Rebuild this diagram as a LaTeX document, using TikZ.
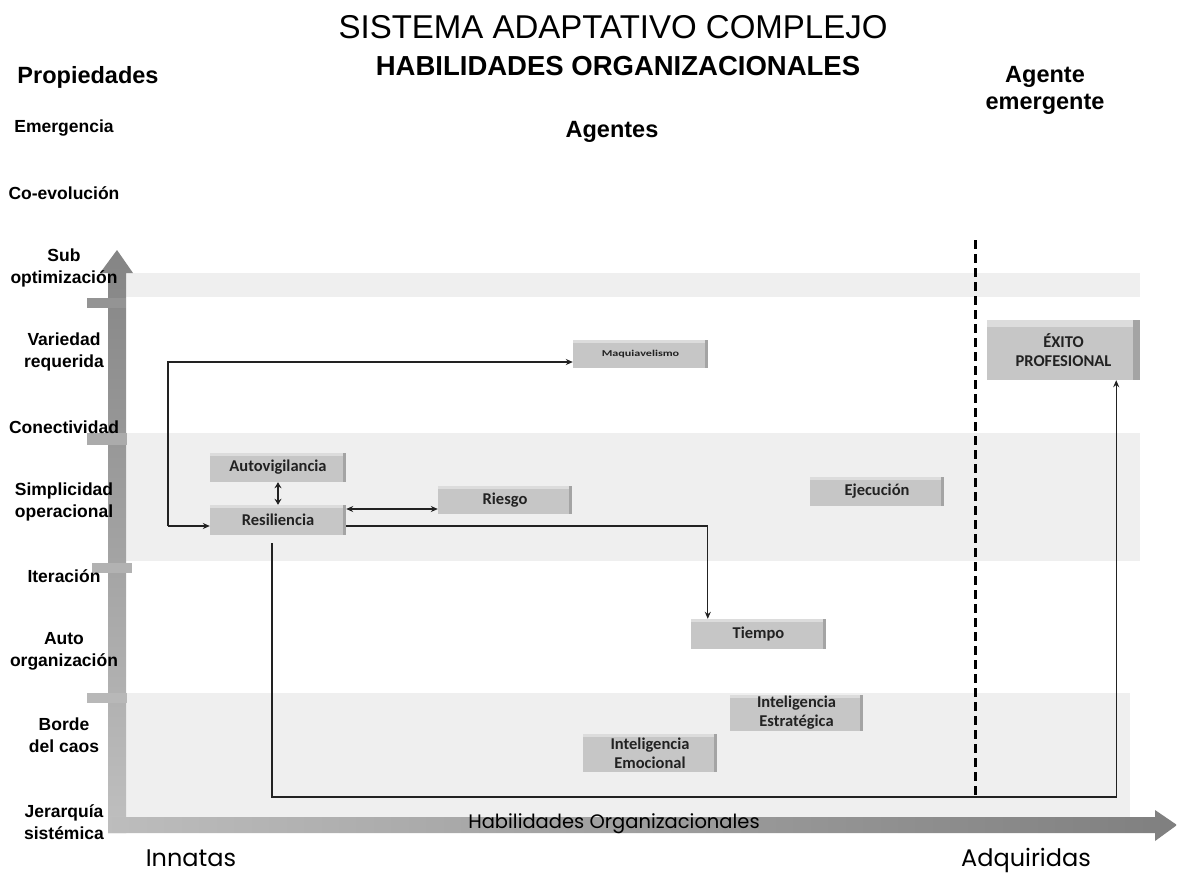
\documentclass[tikz,border=0pt]{standalone}
\usepackage{fontspec}
\setmainfont{Liberation Sans}
\newfontfamily\boxfont{Carlito}
\newfontfamily\roundfont{Poppins}
\usetikzlibrary{arrows.meta,calc}

\definecolor{bandgray}{HTML}{EFEFEF}
\definecolor{boxgray}{HTML}{C6C6C6}
\definecolor{boxtop}{HTML}{DCDCDC}
\definecolor{boxside}{HTML}{A4A4A4}
\definecolor{inkgray}{HTML}{222222}

\tikzset{
  proplabel/.style={align=center, font=\bfseries\fontsize{17.5}{22}\selectfont},
  heading/.style={align=center, font=\bfseries\fontsize{23.5}{27}\selectfont},
  agentbox/.style={
    fill=boxgray, inner sep=0pt, align=center, text=inkgray,
    font=\boxfont\bfseries\fontsize{16.5}{19}\selectfont,
    path picture={
      \fill[boxtop] (path picture bounding box.north west) rectangle
        ([yshift=-\boxdepth]path picture bounding box.north east);
      \fill[boxside] ([xshift=-\boxdepth]path picture bounding box.south east) rectangle
        (path picture bounding box.north east);
    }},
  conn/.style={draw=inkgray, line width=1.1pt,
    -{Stealth[length=7pt,width=6pt]}},
  dconn/.style={draw=inkgray, line width=1.1pt,
    {Stealth[length=7pt,width=6pt]}-{Stealth[length=7pt,width=6pt]}},
  caption/.style={font=\roundfont\fontsize{24}{28}\selectfont, text=black},
}
\newcommand{\boxdepth}{3pt}

\begin{document}
\begin{tikzpicture}[x=1pt,y=-1pt]
\useasboundingbox (0,0) rectangle (1177,873);
\fill[white] (0,0) rectangle (1177,873);

% shaded bands
\fill[bandgray] (126,273) rectangle (1140,297);
\fill[bandgray] (126,433) rectangle (1140,561);
\fill[bandgray] (126,693) rectangle (1130,817);

% vertical axis arrow
\shade[top color=black!48, bottom color=black!25]
  (108,833) -- (108,273) -- (100,273) -- (117,250) -- (133,273)
  -- (126,273) -- (126,833) -- cycle;
% horizontal axis arrow
\shade[left color=black!26, right color=black!50]
  (108,817) -- (1155,817) -- (1155,810) -- (1177,825) -- (1155,841)
  -- (1155,833) -- (108,833) -- cycle;

% tick bars on the vertical axis
\fill[black!42] (87,298) rectangle (126,308);
\fill[black!33] (87,433) rectangle (127,445);
\fill[black!30] (92,563) rectangle (132,573);
\fill[black!28] (87,693) rectangle (127,703);

% titles
\node[font=\fontsize{33}{36}\selectfont] (title) at (613,27) {SISTEMA ADAPTATIVO COMPLEJO};
\node[font=\bfseries\fontsize{27.5}{30}\selectfont] (subtitle) at (618,66) {HABILIDADES ORGANIZACIONALES};
\node[heading] (props) at (88,77) {Propiedades};
\node[heading] (agents) at (612,132) {Agentes};
\node[heading] (emerg) at (1045,90) {Agente\\emergente};

% properties along the vertical axis
\node[proplabel] (p1) at (64,128) {Emergencia};
\node[proplabel] (p2) at (64,193) {Co-evolución};
\node[proplabel] (p3) at (64,268) {Sub\\optimización};
\node[proplabel] (p4) at (64,352) {Variedad\\requerida};
\node[proplabel] (p5) at (64,427) {Conectividad};
\node[proplabel] (p6) at (64,502) {Simplicidad\\operacional};
\node[proplabel] (p7) at (64,576) {Iteración};
\node[proplabel] (p8) at (64,651) {Auto\\organización};
\node[proplabel] (p9) at (64,735) {Borde\\del caos};
\node[proplabel] (p10) at (64,822) {Jerarquía\\sistémica};

% axis captions
\node[caption, font=\roundfont\fontsize{19.5}{22}\selectfont] (haxis) at (614,824) {Habilidades Organizacionales};
\node[caption, anchor=base] (innate) at (191,866) {Innatas};
\node[caption, anchor=base] (acquired) at (1026,866) {Adquiridas};

% emergent-agent separator
\coordinate (septop) at (975,240);
\coordinate (sepbot) at (975,795);
\draw[line width=3pt, dash pattern=on 9pt off 5pt] (septop) -- (sepbot);

% agents
\node[agentbox, minimum width=135pt, minimum height=28pt,
  font=\boxfont\bfseries\fontsize{9}{11}\selectfont] (maq) at (640.5,354)
  {\scalebox{1.35}[1]{Maquiavelismo}};
\renewcommand{\boxdepth}{7pt}
\node[agentbox, minimum width=153pt, minimum height=60pt] (exi) at (1063.5,350)
  {ÉXITO\\PROFESIONAL};
\renewcommand{\boxdepth}{3pt}
\node[agentbox, minimum width=136pt, minimum height=29pt] (auto) at (278,467.5) {Autovigilancia};
\node[agentbox, minimum width=136pt, minimum height=30pt] (res) at (278,520) {Resiliencia};
\node[agentbox, minimum width=134pt, minimum height=28pt] (rie) at (505,500) {Riesgo};
\node[agentbox, minimum width=134pt, minimum height=29pt] (eje) at (877,491.5) {Ejecución};
\node[agentbox, minimum width=135pt, minimum height=30pt] (tie) at (758.5,634) {Tiempo};
\node[agentbox, minimum width=133pt, minimum height=36pt] (iest) at (796.5,713) {Inteligencia\\Estratégica};
\node[agentbox, minimum width=134pt, minimum height=38pt] (iemo) at (650,753) {Inteligencia\\Emocional};

% connectors
\coordinate (split) at (168,526);
\coordinate (maqin) at ([yshift=-8pt]maq.west);
\draw[conn] (split) |- (maqin);
\draw[conn] (split) -- (split -| res.west);

\draw[dconn, {Stealth[length=6pt,width=7pt]}-{Stealth[length=6pt,width=7pt]}] (auto.south) -- (res.north);

\coordinate (rr) at ([yshift=-9pt]rie.west);
\draw[dconn] (rr -| res.east) -- (rr);

\coordinate (tin) at ([xshift=17pt]tie.north west);
\draw[conn] (split -| res.east) -| (tin);

\coordinate (resdrop) at ([shift={(-6pt,-8pt)}]res.south);
\coordinate (floor) at (resdrop |- 0,797);
\coordinate (exin) at ([xshift=-24pt]exi.south east);
\draw[conn] (resdrop) -- (floor) -| (exin);
\end{tikzpicture}
\end{document}
